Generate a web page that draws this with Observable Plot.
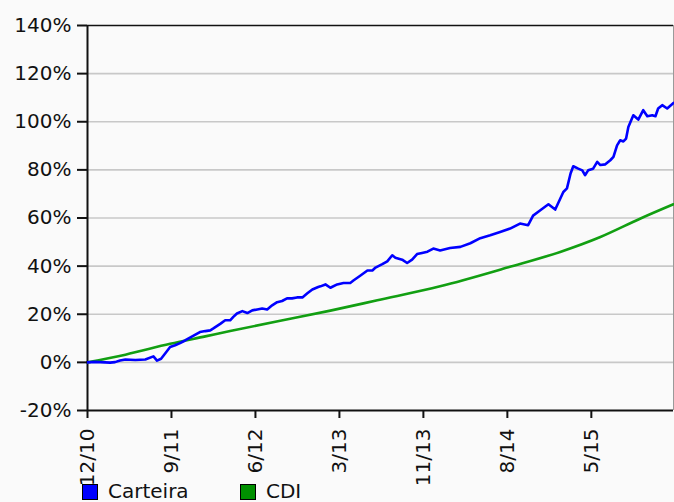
<!DOCTYPE html>
<html>
<head>
<meta charset="utf-8">
<script src="https://cdn.jsdelivr.net/npm/d3@7"></script>
<script src="https://cdn.jsdelivr.net/npm/@observablehq/plot@0.6"></script>
<style>
  html, body { margin: 0; padding: 0; background: #fafafa; }
  #wrap { width: 674px; height: 502px; overflow: hidden; position: relative; background: #fafafa; }
  #chart svg { display: block; }
  #legend { position: relative; height: 22px; margin-top: -11px; font: 20px "DejaVu Sans", sans-serif; color: #111; }
  .item { position: absolute; top: 3px; display: flex; align-items: flex-start; }
  .sw { width: 14px; height: 14px; border: 1px solid #000; margin-top: 2px; margin-right: 10px; }
  .lab { line-height: 18px; }
</style>
</head>
<body>
<div id="wrap"><div id="chart"></div><div id="legend"></div></div>
<script>
const seriesNames = ["Carteira", "CDI"];
const seriesColors = ["#0000ff", "#129f12"];
const swatchColors = ["#0000ff", "#009000"];

// trading-day index vs cumulative return (%)
const carteiraDays = [0,17,39,50,61,72,84,106,128,146,154,163,172,183,194,205,216,232,249,261,272,278,294,305,316,323,331,343,354,365,376,387,398,409,420,431,442,453,464,476,487,498,511,516,527,538,553,567,582,589,604,620,631,638,653,664,675,682,697,708,719,730,741,753,766,781,803,826,848,870,892,914,936,958,976,987,1003,1021,1036,1054,1062,1070,1076,1087,1096,1102,1109,1120,1129,1136,1147,1158,1165,1173,1180,1187,1193,1198,1209,1220,1231,1240,1251,1258,1264,1273,1284,1298];
const carteiraValues = [0,0.2,0,-0.1,0.1,0.8,1.2,1.0,1.2,2.5,0.7,1.5,3.7,6.4,7.1,8,9.1,10.8,12.6,13,13.3,14,16,17.5,17.5,18.9,20.3,21.3,20.5,21.6,22,22.4,22,23.7,25,25.5,26.6,26.6,27,27,28.7,30.3,31.3,31.6,32.4,31,32.4,33,33,34,36,38.2,38.2,39.4,40.8,42,44.5,43.5,42.7,41.3,42.7,45,45.5,46,47.3,46.5,47.5,48,49.5,51.6,52.8,54.2,55.6,57.7,57,61,63.2,65.7,63.5,70.8,72.3,78.5,81.5,80.5,79.8,77.8,79.8,80.5,83.3,82,82.3,84,85.4,90.2,92.3,91.8,93,97.8,102.7,100.9,104.8,102.3,102.7,102.3,105.5,106.9,105.5,107.8];

const cdiDays = [0,84,183,261,316,427,538,642,781,932,1047,1136,1225,1298];
const cdiValues = [0,3.2,7.7,10.8,13,17.3,21.5,25.8,31.6,39.5,45.9,52.1,59.8,65.7];

const xTickDays = [0,186,372,558,744,930,1116];
const xTickLabels = ["12/10","9/11","6/12","3/13","11/13","8/14","5/15"];
const yTicks = [-20,0,20,40,60,80,100,120,140];
const yGrid = [0,20,40,60,80,100,120];

const carteira = carteiraDays.map((d, i) => ({day: d, value: carteiraValues[i]}));
const cdi = cdiDays.map((d, i) => ({day: d, value: cdiValues[i]}));

const chart = Plot.plot({
  width: 674,
  height: 490,
  marginLeft: 87,
  marginRight: 1,
  marginTop: 25,
  marginBottom: 80,
  style: {background: "transparent", fontFamily: "'DejaVu Sans', sans-serif", color: "#111"},
  x: {domain: [0, 1298], label: null},
  y: {domain: [-20, 140], label: null},
  marks: [
    Plot.ruleY(yGrid, {stroke: "#c8c8c8", strokeWidth: 1.6}),
    Plot.ruleX([1298], {stroke: "#9a9a9a", strokeWidth: 1}),
    Plot.ruleY([140], {stroke: "#111", strokeWidth: 1.6}),
    Plot.ruleY([-20], {stroke: "#111", strokeWidth: 2}),
    Plot.ruleX([0], {stroke: "#111", strokeWidth: 2}),
    Plot.line(cdi, {x: "day", y: "value", stroke: seriesColors[1], strokeWidth: 2.6, curve: "monotone-x"}),
    Plot.line(carteira, {x: "day", y: "value", stroke: seriesColors[0], strokeWidth: 2.6}),
    Plot.axisY({ticks: yTicks, tickFormat: d => d + "%", tickSize: 10, tickPadding: 6, fontSize: 20, stroke: "#111", strokeWidth: 2, label: null}),
    Plot.axisX({ticks: xTickDays, tickFormat: d => xTickLabels[xTickDays.indexOf(d)], tickRotate: -90, tickSize: 8, tickPadding: 10, fontSize: 20, stroke: "#111", strokeWidth: 2, label: null})
  ]
});
document.getElementById("chart").appendChild(chart);

const legend = document.getElementById("legend");
const legendLeft = [82, 240];
seriesNames.forEach((name, i) => {
  const item = document.createElement("div");
  item.className = "item";
  item.style.left = legendLeft[i] + "px";
  const sw = document.createElement("div");
  sw.className = "sw";
  sw.style.background = swatchColors[i];
  const lab = document.createElement("span");
  lab.className = "lab";
  lab.textContent = name;
  item.appendChild(sw);
  item.appendChild(lab);
  legend.appendChild(item);
});
</script>
</body>
</html>
